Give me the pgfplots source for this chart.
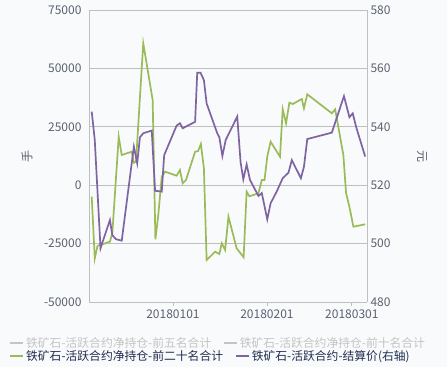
\documentclass[border=0pt]{standalone}
\usepackage{pgfplots}
\pgfplotsset{compat=1.18}
\usepackage{fontspec}
\setmainfont{Noto Sans CJK SC}
\definecolor{bg}{HTML}{F8FAFC}
\definecolor{gr}{HTML}{9BBB59}
\definecolor{pu}{HTML}{8064A2}
\definecolor{lg}{HTML}{C4C4C4}
\definecolor{tk}{HTML}{5B6170}
\definecolor{ax}{HTML}{BFBFBF}
\definecolor{nv}{HTML}{1F2D4D}
\begin{document}
\begin{tikzpicture}[x=1pt,y=1pt]
\fill[bg] (0,0) rectangle (447,367);
\useasboundingbox (0,0) rectangle (447,367);
\begin{axis}[
  at={(89pt,65pt)}, anchor=south west,
  scale only axis, width=278pt, height=292pt,
  clip=false,
  xmin=-27.7, xmax=64.0,
  ymin=-50000, ymax=75000,
  ytick={-50000,-25000,0,25000,50000,75000},
  yticklabels={-50000,-25000,0,25000,50000,75000},
  scaled y ticks=false,
  xtick={0,31,59},
  xticklabels={20180101,20180201,20180301},
  axis y line*=left, axis x line*=bottom,
  axis line style={ax, line width=0.8pt, -},
  ymajorgrids, grid style={ax, line width=0.7pt},
  tick style={ax}, ytick style={draw=none},
  xtick style={color=ax, line width=0.7pt},
  major tick length=4pt, tick align=outside,
  ticklabel style={font=\fontsize{12}{12}\selectfont, text=tk},
  /pgf/number format/assume math mode=true,
  legend columns=2,
  legend style={draw=none, fill=none, at={(-0.297,-0.14)}, anchor=west,
    font=\fontsize{11.8}{12}\selectfont, text=lg,
    /tikz/every even column/.append style={column sep=10pt}},
  legend cell align=left,
  legend image code/.code={\draw[#1] (0pt,0pt) -- (13pt,0pt);},
]
\draw[ax, line width=0.8pt] (rel axis cs:0,1) -- (rel axis cs:1,1);
\node[rotate=90, text=tk, font=\fontsize{12}{12}\selectfont] at (rel axis cs:-0.223,0.5) {手};
\node[rotate=-90, text=tk, font=\fontsize{12}{12}\selectfont] at (rel axis cs:1.198,0.5) {元};
\addlegendimage{lg, line width=1.5pt}
\addlegendentry{铁矿石-活跃合约净持仓-前五名合计}
\addlegendimage{lg, line width=1.5pt}
\addlegendentry{铁矿石-活跃合约净持仓-前十名合计}
\addplot[gr, line width=1.7pt, forget plot] coordinates {
(-26.8,-4923) (-25.8,-31293) (-24.9,-26027) (-20.8,-24186) (-20.0,-20462)
(-17.9,20762) (-16.9,12928) (-13.6,14341) (-12.9,9632) (-12.2,10000)
(-9.8,60745) (-6.7,36473) (-5.8,-23159) (-4.9,-13484) (-3.7,3639)
(-2.6,5779) (1.2,4067) (2.3,6507) (3.2,814) (4.3,2226)
(7.3,14341) (8.3,14641) (9.2,17637) (10.2,7235) (11.1,-32020)
(13.9,-28467) (15.3,-29451) (16.1,-24871) (17.2,-27739) (18.3,-13484)
(21.0,-27012) (23.3,-30864) (24.3,-2782) (25.2,-4751) (28.2,-3467)
(29.3,2226) (30.2,2226) (31.1,12201) (32.2,18622) (35.3,12201)
(36.2,32492) (37.3,26498) (38.4,35317) (39.5,34760) (42.5,36901)
(43.2,32920) (44.3,38913) (52.4,30779) (53.5,32492) (56.2,12928)
(57.1,-3467) (58.2,-9203) (59.5,-17765) (63.4,-16737)
};
\end{axis}
\begin{axis}[
  at={(89pt,65pt)}, anchor=south west,
  scale only axis, width=278pt, height=292pt,
  xmin=-27.7, xmax=64.0,
  ymin=480, ymax=580,
  ytick={480,500,520,540,560,580},
  xtick=\empty,
  axis y line*=right, axis x line=none,
  axis line style={ax, line width=0.8pt, -},
  ytick style={draw=none},
  ticklabel style={font=\fontsize{12}{12}\selectfont, text=tk},
  /pgf/number format/assume math mode=true,
  legend columns=2,
  legend style={draw=none, fill=none, at={(-0.297,-0.185)}, anchor=west,
    font=\fontsize{11.8}{12}\selectfont, text=nv,
    /tikz/every even column/.append style={column sep=10pt}},
  legend cell align=left,
  legend image code/.code={\draw[#1] (0pt,0pt) -- (13pt,0pt);},
]
\addlegendimage{gr, line width=1.5pt}
\addlegendentry{铁矿石-活跃合约净持仓-前二十名合计}
\addplot[pu, line width=1.7pt] coordinates {
(-26.8,545.2) (-25.8,535.5) (-23.9,498.4) (-20.8,508.1) (-20.0,502.9)
(-18.8,501.5) (-16.9,501.0) (-12.9,533.2) (-11.8,527.5) (-10.9,536.4)
(-9.8,537.8) (-7.0,538.7) (-5.9,518.1) (-3.7,517.8) (-2.9,530.3)
(1.2,540.4) (2.3,541.2) (3.2,539.5) (7.3,541.7) (8.0,558.5)
(9.1,558.5) (10.2,556.0) (11.1,548.0) (14.6,537.8) (15.3,536.4)
(16.3,530.0) (17.4,535.5) (21.2,543.5) (22.3,527.9) (23.2,522.0)
(24.3,527.1) (25.4,521.8) (28.2,516.3) (29.3,517.3) (31.1,508.3)
(32.2,513.8) (34.2,517.8) (36.2,522.4) (38.1,524.3) (39.2,528.6)
(42.2,522.4) (43.2,526.3) (44.3,535.8) (52.4,538.0) (56.4,550.5)
(58.2,543.3) (59.3,544.6) (60.4,540.0) (63.4,529.8)
};
\addlegendentry{铁矿石-活跃合约-结算价(右轴)}
\end{axis}
\end{tikzpicture}
\end{document}
